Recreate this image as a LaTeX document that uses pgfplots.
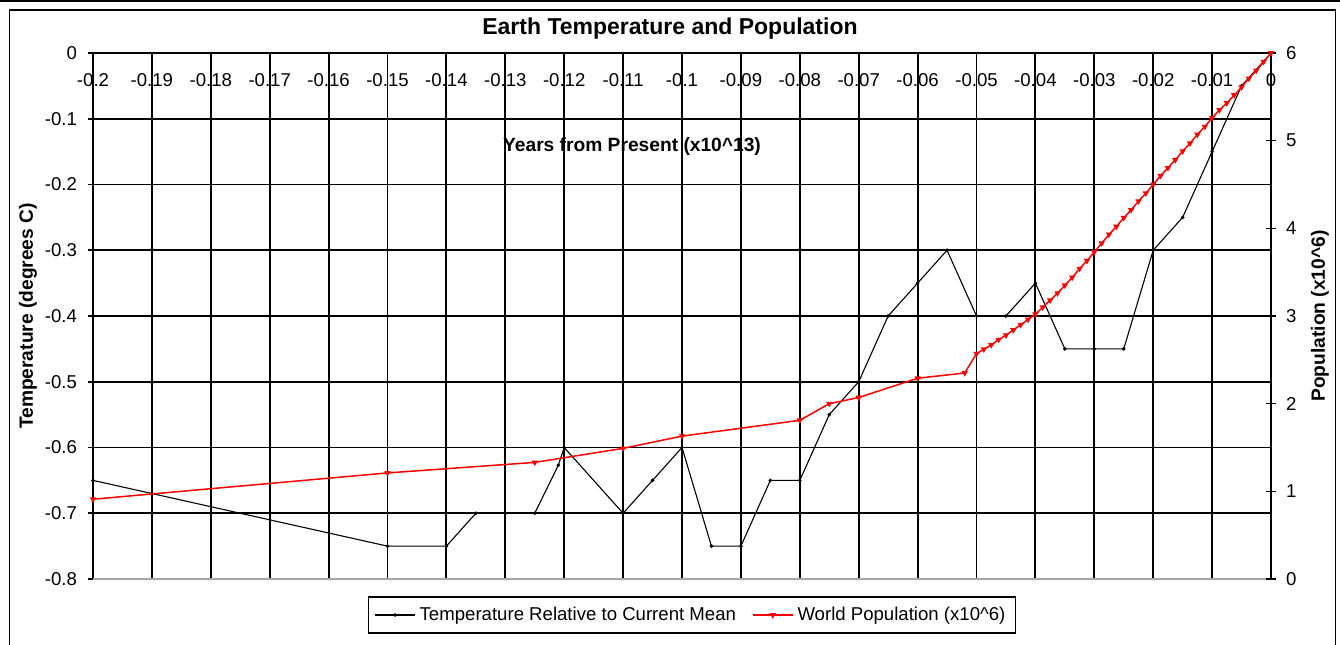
\documentclass[border=0pt]{standalone}
\usepackage{fontspec}
\setmainfont{Liberation Sans}
\usepackage{pgfplots}
\pgfplotsset{compat=1.18}

\pgfplotstableread{
x y
-0.2 -0.65
-0.15 -0.75
-0.14 -0.75
-0.135 -0.70
nan nan
-0.13 -0.70
nan nan
-0.125 -0.70
-0.121 -0.627
-0.12 -0.60
-0.11 -0.70
-0.105 -0.65
-0.1 -0.60
-0.095 -0.75
-0.09 -0.75
-0.085 -0.65
-0.08 -0.65
-0.075 -0.55
-0.07 -0.50
-0.065 -0.40
-0.06 -0.35
-0.055 -0.30
-0.05 -0.40
nan nan
-0.045 -0.40
-0.04 -0.35
-0.035 -0.45
-0.03 -0.45
-0.025 -0.45
-0.02 -0.30
-0.015 -0.25
-0.01 -0.15
-0.005 -0.05
0 0
}\temptable

\pgfplotstableread{
x y
-0.2 0.91
-0.15 1.21
-0.125 1.33
-0.11 1.49
-0.1 1.63
-0.08 1.81
-0.075 2.00
-0.07 2.07
-0.06 2.29
-0.052 2.35
-0.05 2.57
-0.04875 2.62
-0.0475 2.67
-0.04625 2.73
-0.045 2.78
-0.04375 2.84
-0.0425 2.90
-0.04125 2.96
-0.04 3.02
-0.03875 3.10
-0.0375 3.18
-0.03625 3.26
-0.035 3.35
-0.03375 3.44
-0.0325 3.54
-0.03125 3.63
-0.03 3.73
-0.02875 3.83
-0.0275 3.93
-0.02625 4.02
-0.025 4.12
-0.02375 4.21
-0.0225 4.31
-0.02125 4.40
-0.02 4.50
-0.01875 4.60
-0.0175 4.69
-0.01625 4.78
-0.015 4.88
-0.01375 4.97
-0.0125 5.07
-0.01125 5.16
-0.01 5.26
-0.00875 5.35
-0.0075 5.43
-0.00625 5.52
-0.005 5.61
-0.00375 5.71
-0.0025 5.80
-0.00125 5.90
0 6.00
}\poptable

\begin{document}
\begin{tikzpicture}
\useasboundingbox (0pt,0pt) rectangle (670pt,322pt);
\fill[white] (0pt,0pt) rectangle (670pt,322pt);
\draw[line width=1pt] (0pt,321.3pt) -- (670pt,321.3pt);
\draw[line width=0.75pt] (4.75pt,-2pt) -- (4.75pt,317pt) -- (667.75pt,317pt) -- (667.75pt,-2pt);
\node[font=\fontsize{11.5}{13}\selectfont\bfseries] at (335pt,307.5pt) {Earth Temperature and Population};

\begin{axis}[
  at={(46.5pt,32.5pt)}, anchor=south west,
  scale only axis, width=589pt, height=263pt,
  xmin=-0.2, xmax=0, ymin=-0.8, ymax=0,
  axis x line*=top, axis y line*=left,
  axis line style={black, line width=0.8pt, -},
  xtick={-0.2,-0.19,-0.18,-0.17,-0.16,-0.15,-0.14,-0.13,-0.12,-0.11,-0.1,-0.09,-0.08,-0.07,-0.06,-0.05,-0.04,-0.03,-0.02,-0.01,0},
  xticklabels={-0.2,-0.19,-0.18,-0.17,-0.16,-0.15,-0.14,-0.13,-0.12,-0.11,-0.1,-0.09,-0.08,-0.07,-0.06,-0.05,-0.04,-0.03,-0.02,-0.01,0},
  ytick={-0.8,-0.7,-0.6,-0.5,-0.4,-0.3,-0.2,-0.1,0},
  yticklabels={-0.8,-0.7,-0.6,-0.5,-0.4,-0.3,-0.2,-0.1,0},
  xtick style={draw=none},
  ytick style={black, line width=0.8pt},
  ytick align=outside, major tick length=2.5pt,
  xticklabel style={anchor=center, yshift=-13.5pt, font=\fontsize{9.3}{11}\selectfont},
  yticklabel style={font=\fontsize{9.3}{11}\selectfont, xshift=-2pt},
  grid=major, major grid style={black, line width=0.95pt},
  xlabel={Years from Present (x10\string^13)},
  xlabel style={at={(axis description cs:0.4576,0.8213)}, anchor=center, font=\fontsize{9.6}{11}\selectfont\bfseries},
  ylabel={Temperature (degrees C)},
  ylabel style={at={(axis description cs:-0.0552,0.5)}, anchor=center, font=\fontsize{9.6}{11}\selectfont\bfseries},
  unbounded coords=jump,
  clip=false,
]
\draw[gray!70, line width=1pt] (rel axis cs:0,0) -- (rel axis cs:1,0);
\addplot[black, line width=0.55pt, mark=*, mark size=0.6pt] table[x=x,y=y] {\temptable};
\end{axis}

\begin{axis}[
  at={(46.5pt,32.5pt)}, anchor=south west,
  scale only axis, width=589pt, height=263pt,
  xmin=-0.2, xmax=0, ymin=0, ymax=6,
  axis y line*=right, axis x line=none,
  axis line style={black, line width=0.8pt, -},
  ytick={0,1,2,3,4,5,6},
  yticklabels={0,1,2,3,4,5,6},
  ytick align=center, major tick length=5pt,
  ytick style={black, line width=0.8pt},
  yticklabel style={font=\fontsize{9.3}{11}\selectfont, xshift=1.5pt},
  ylabel={Population (x10\string^6)},
  ylabel style={at={(axis description cs:1.0416,0.5)}, anchor=center, rotate=0, font=\fontsize{9.6}{11}\selectfont\bfseries},
  legend columns=2,
  legend style={at={(0.5085,-0.0684)}, anchor=center, draw=black, line width=0.8pt,
    font=\fontsize{9.3}{11}\selectfont, inner sep=3pt,
    /tikz/every even column/.append style={column sep=6pt}},
  legend image code/.code={\draw[#1] (0pt,0pt) -- (20pt,0pt); \draw[#1, mark repeat=1] plot coordinates {(10pt,0pt)};},
  clip=false,
]
\addlegendimage{black, line width=0.55pt, mark=*, mark size=0.6pt}
\addlegendentry{Temperature Relative to Current Mean}
\addplot[red, line width=0.75pt, mark=triangle*, mark size=1.1pt, mark options={rotate=180}] table[x=x,y=y] {\poptable};
\addlegendentry{World Population (x10\string^6)}
\end{axis}
\end{tikzpicture}
\end{document}
